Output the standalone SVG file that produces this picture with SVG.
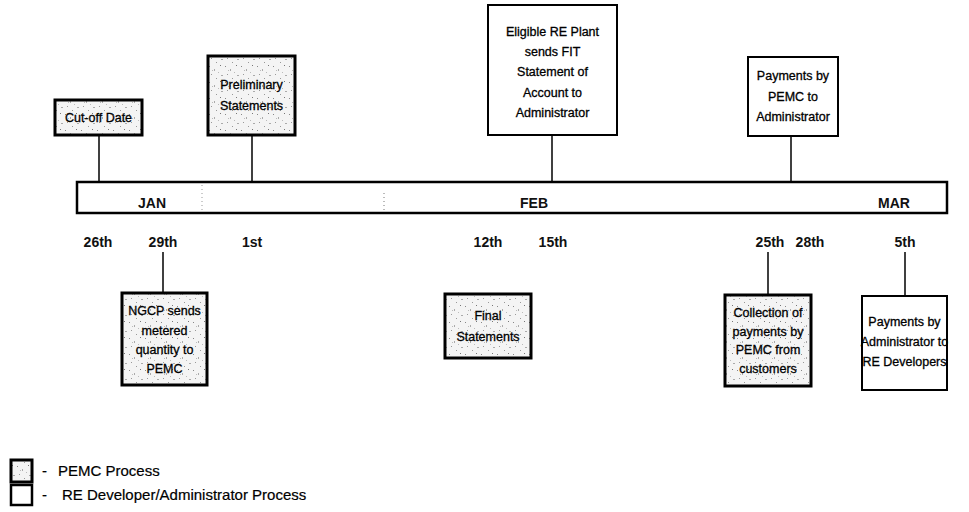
<svg xmlns="http://www.w3.org/2000/svg" width="969" height="512" viewBox="0 0 969 512">
<style>
.pemc{fill:url(#speck);stroke:#000;stroke-width:3}
.dev{fill:#fff;stroke:#000;stroke-width:2}
.bt{font-family:"Liberation Sans",Arial,sans-serif;font-size:12.5px;fill:#000;stroke:#000;stroke-width:0.3;text-anchor:middle}
.dt{font-family:"Liberation Sans",Arial,sans-serif;font-size:14px;font-weight:700;fill:#111;text-anchor:middle}
.lg{font-family:"Liberation Sans",Arial,sans-serif;font-size:15px;fill:#000;stroke:#000;stroke-width:0.2}
.conn line{stroke:#000;stroke-width:1.5}
</style>
<defs>
<pattern id="speck" width="16" height="16" patternUnits="userSpaceOnUse">
<rect width="16" height="16" fill="#f4f4f4"/>
<rect x="1" y="2" width="1" height="1" fill="#888"/>
<rect x="6" y="5" width="1" height="2" fill="#aaa"/>
<rect x="12" y="1" width="1" height="1" fill="#777"/>
<rect x="3" y="10" width="1" height="1" fill="#999"/>
<rect x="13" y="11" width="2" height="1" fill="#aaa"/>
<rect x="8" y="14" width="1" height="1" fill="#999"/>
<rect x="4" y="6" width="1" height="1" fill="#bbb"/>
<rect x="10" y="8" width="1" height="1" fill="#bbb"/>
</pattern>
</defs>
<rect width="969" height="512" fill="#fff"/>

<g id="timeline">
<rect x="77" y="182" width="870" height="31" fill="#fff" stroke="#000" stroke-width="2.5"/>
<line x1="202" y1="185" x2="202" y2="211" stroke="#999" stroke-width="1" stroke-dasharray="1,3"/>
<line x1="384" y1="193" x2="384" y2="210" stroke="#777" stroke-width="1" stroke-dasharray="1,3"/>
<text class="dt" x="152" y="208">JAN</text>
<text class="dt" x="534" y="208">FEB</text>
<text class="dt" x="894" y="208">MAR</text>
</g>

<g id="dates">
<text class="dt" x="98" y="247">26th</text>
<text class="dt" x="163" y="247">29th</text>
<text class="dt" x="252" y="247">1st</text>
<text class="dt" x="488" y="247">12th</text>
<text class="dt" x="553" y="247">15th</text>
<text class="dt" x="770" y="247">25th</text>
<text class="dt" x="810" y="247">28th</text>
<text class="dt" x="905" y="247">5th</text>
</g>

<g class="conn" id="connectors">
<line x1="99" y1="135" x2="99" y2="182"/>
<line x1="252" y1="135" x2="252" y2="182"/>
<line x1="552" y1="135" x2="552" y2="182"/>
<line x1="791" y1="136" x2="791" y2="182"/>
<line x1="163" y1="252" x2="163" y2="293"/>
<line x1="768" y1="252" x2="768" y2="295"/>
<line x1="905" y1="252" x2="905" y2="296"/>
</g>

<g id="cutoff">
<rect class="pemc" x="55" y="100" width="87" height="35"/>
<text class="bt" x="98.5" y="122">Cut-off Date</text>
</g>

<g id="preliminary">
<rect class="pemc" x="208" y="56" width="87" height="79"/>
<text class="bt" x="251.5" y="89">Preliminary</text>
<text class="bt" x="251.5" y="110">Statements</text>
</g>

<g id="eligible">
<rect class="dev" x="488" y="5" width="129" height="130"/>
<text class="bt" x="552.5" y="36">Eligible RE Plant</text>
<text class="bt" x="552.5" y="56">sends FIT</text>
<text class="bt" x="552.5" y="76">Statement of</text>
<text class="bt" x="552.5" y="97">Account to</text>
<text class="bt" x="552.5" y="117">Administrator</text>
</g>

<g id="pemc-admin">
<rect class="dev" x="748" y="57" width="90" height="79"/>
<text class="bt" x="793" y="80">Payments by</text>
<text class="bt" x="793" y="101">PEMC to</text>
<text class="bt" x="793" y="121">Administrator</text>
</g>

<g id="ngcp">
<rect class="pemc" x="122" y="293" width="85" height="92"/>
<text class="bt" x="164.5" y="315">NGCP sends</text>
<text class="bt" x="164.5" y="335">metered</text>
<text class="bt" x="164.5" y="354">quantity to</text>
<text class="bt" x="164.5" y="373">PEMC</text>
</g>

<g id="final">
<rect class="pemc" x="445" y="294" width="86" height="64"/>
<text class="bt" x="488" y="320">Final</text>
<text class="bt" x="488" y="341">Statements</text>
</g>

<g id="collection">
<rect class="pemc" x="725" y="295" width="86" height="91"/>
<text class="bt" x="768" y="317">Collection of</text>
<text class="bt" x="768" y="336">payments by</text>
<text class="bt" x="768" y="354">PEMC from</text>
<text class="bt" x="768" y="373">customers</text>
</g>

<g id="admin-dev">
<rect class="dev" x="862" y="296" width="85" height="94"/>
<text class="bt" x="904.5" y="326">Payments by</text>
<text class="bt" x="904.5" y="346">Administrator to</text>
<text class="bt" x="904.5" y="366">RE Developers</text>
</g>

<g id="legend">
<rect class="pemc" x="11" y="460" width="21" height="22"/>
<text class="lg" x="42" y="476">-</text>
<text class="lg" x="58" y="476">PEMC Process</text>
<rect x="11" y="485" width="21" height="20" fill="#fff" stroke="#000" stroke-width="2.5"/>
<text class="lg" x="42" y="500">-</text>
<text class="lg" x="62" y="500">RE Developer/Administrator Process</text>
</g>
</svg>
